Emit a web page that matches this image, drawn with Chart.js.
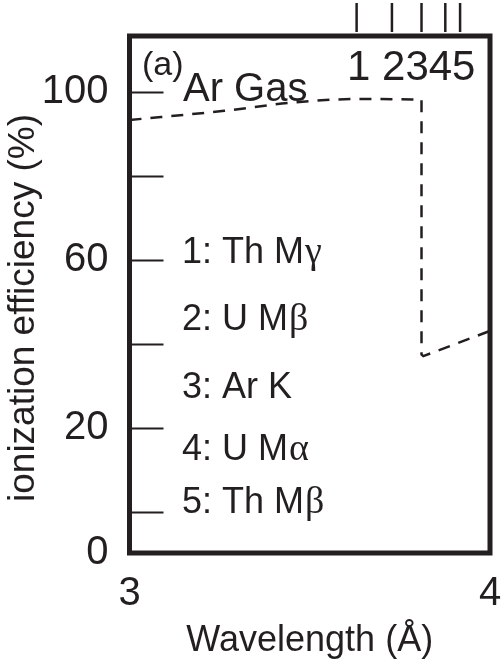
<!DOCTYPE html>
<html>
<head>
<meta charset="utf-8">
<script src="https://cdn.jsdelivr.net/npm/chart.js@4/dist/chart.umd.min.js"></script>
<style>
  html, body { margin: 0; padding: 0; background: #fff; }
  #wrap { width: 503px; height: 663px; }
</style>
</head>
<body>
<div id="wrap"><canvas id="c"></canvas></div>
<script>
// ionization efficiency of the Ar gas
const curveWave = [3.0, 3.263, 3.447, 3.628, 3.785, 3.81];
const curveEff  = [93.3, 95.5, 97.4, 98.3, 98.2, 98.0];
const edgeWave  = [3.81, 3.81, 3.815, 4.0];
const edgeEff   = [98.0, 37.5, 37.1, 43.1];

// x-ray line markers (1..5) along the top edge
const lineWave  = [3.63, 3.728, 3.81, 3.876, 3.917];
const lineNames = ['1: Th M', '2: U M', '3: Ar K', '4: U M', '5: Th M'];
const lineGreek = ['γ', 'β', '', 'α', 'β'];

const yTicks  = [0, 20, 40, 60, 80, 100];
const yLabels = { 100: '100', 60: '60', 20: '20' };
const xTicks  = [3, 4];
const yMin = -9.76, yMax = 113.3;

const ink = '#231f20';
const FONT = '"Liberation Sans", Arial, Helvetica, sans-serif';
const GREEK = '"Liberation Serif", "Times New Roman", serif';

const pts = (xs, ys) => xs.map((v, i) => ({ x: v, y: ys[i] }));

/* frame, inner ticks, markers, y title and text notes */
const deco = {
  id: 'deco',
  afterDatasetsDraw(chart) {
    const { ctx, chartArea: a, scales: { x, y } } = chart;
    ctx.save();
    ctx.strokeStyle = ink;
    ctx.fillStyle = ink;
    ctx.lineCap = 'butt';

    // ticks drawn inward from the left axis
    ctx.lineWidth = 2;
    yTicks.forEach(v => {
      const p = Math.round(y.getPixelForValue(v)) + 0.5;
      ctx.beginPath();
      ctx.moveTo(a.left, p);
      ctx.lineTo(a.left + 34, p);
      ctx.stroke();
    });

    // line positions above the frame
    ctx.lineWidth = 2.5;
    lineWave.forEach(v => {
      const p = x.getPixelForValue(v);
      ctx.beginPath();
      ctx.moveTo(p, 3);
      ctx.lineTo(p, a.top - 4);
      ctx.stroke();
    });

    // frame
    ctx.lineWidth = 5;
    ctx.strokeRect(a.left, a.top, a.right - a.left, a.bottom - a.top);

    // y axis title (sits a bit below the plot centre in the original)
    ctx.save();
    ctx.translate(24, 308);
    ctx.rotate(-Math.PI / 2);
    ctx.textAlign = 'center';
    ctx.textBaseline = 'middle';
    ctx.font = '37px ' + FONT;
    ctx.fillText('ionization efficiency (%)', 0, 0);
    ctx.restore();

    // notes
    ctx.textAlign = 'left';
    ctx.textBaseline = 'alphabetic';
    ctx.font = '34px ' + FONT;
    ctx.fillText('(a)', 142, 75);
    ctx.font = '40px ' + FONT;
    ctx.fillText('Ar Gas', 183, 101);
    ctx.font = '42px ' + FONT;
    ctx.fillText('1 2345', 347, 80);

    const base = [263, 330, 398, 460, 513];
    lineNames.forEach((t, i) => {
      ctx.font = '36px ' + FONT;
      ctx.fillText(t, 182, base[i]);
      if (!lineGreek[i]) return;
      const w = ctx.measureText(t).width;
      ctx.font = '38px ' + GREEK;
      ctx.fillText(lineGreek[i], 182 + w + 1, base[i]);
    });
    ctx.restore();
  }
};

new Chart(document.getElementById('c'), {
  type: 'line',
  data: {
    datasets: [
      { data: pts(curveWave, curveEff), cubicInterpolationMode: 'monotone' },
      { data: pts(edgeWave, edgeEff), tension: 0 }
    ].map(d => Object.assign(d, {
      borderColor: ink, borderWidth: 2.5, borderDash: [12, 9],
      pointRadius: 0, fill: false
    }))
  },
  options: {
    responsive: true,
    maintainAspectRatio: false,
    animation: false,
    layout: { padding: { top: 36, right: 13, left: 0, bottom: 0 } },
    plugins: { legend: { display: false }, tooltip: { enabled: false } },
    scales: {
      x: {
        type: 'linear', min: 3, max: 4,
        afterBuildTicks: s => { s.ticks = xTicks.map(v => ({ value: v })); },
        afterFit: s => { s.height = 110; s.paddingLeft = 0; s.paddingRight = 0; },
        grid: { display: false }, border: { display: false },
        ticks: { color: ink, font: { family: FONT, size: 40 }, padding: 9, maxRotation: 0 },
        title: { display: true, text: 'Wavelength (Å)', color: ink,
                 font: { family: FONT, size: 36 }, padding: { top: 0, bottom: 0 } }
      },
      y: {
        type: 'linear', min: yMin, max: yMax,
        afterBuildTicks: s => { s.ticks = [yMin].concat(yTicks).map(v => ({ value: v })); },
        afterFit: s => { s.width = 129.5; s.paddingTop = 0; s.paddingBottom = 0; },
        grid: { display: false }, border: { display: false },
        ticks: {
          color: ink, font: { family: FONT, size: 40 }, padding: 13,
          callback: v => v === yMin ? '0' : (yLabels[v] || '')
        },
        title: { display: false }
      }
    }
  },
  plugins: [deco]
});
</script>
</body>
</html>
